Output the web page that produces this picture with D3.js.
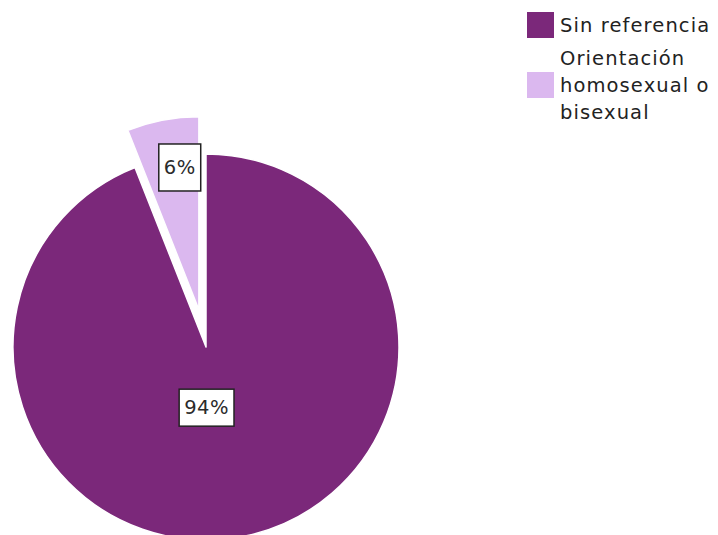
<!DOCTYPE html>
<html>
<head>
<meta charset="utf-8">
<script src="https://cdn.jsdelivr.net/npm/d3@7"></script>
<style>
  html, body { margin: 0; padding: 0; background: #fff; }
  svg { display: block; }
  text { font-family: "DejaVu Sans", sans-serif; }
</style>
</head>
<body>
<svg id="chart" width="718" height="535"></svg>
<script>
// Distribution of cases by reference to sexual orientation
const categories = ["Sin referencia", "Orientación homosexual o bisexual"];
const legendLines = [["Sin referencia"], ["Orientación", "homosexual o", "bisexual"]];
const values = [94, 6];
const valueLabels = ["94%", "6%"];
const colors = ["#7b287a", "#dbb8ef"];

const svg = d3.select("#chart");
const cx = 206, cy = 347, radius = 193;
const explode = [0, 38];          // outward offset per slice
const labelRadius = [0.32, 0.75]; // label distance as fraction of radius
const labelNudge = [-11, 8];      // horizontal nudge of each label
const boxPad = [[5, 7], [5, 12]]; // [horizontal, vertical] padding of label boxes

const pie = d3.pie().sort(null).value(d => d)(values);
const arc = d3.arc().innerRadius(0).outerRadius(radius);

const g = svg.append("g").attr("transform", `translate(${cx},${cy})`);

const slices = g.selectAll("g.slice")
  .data(pie)
  .join("g")
  .attr("class", "slice")
  .attr("transform", (d, i) => {
    const a = (d.startAngle + d.endAngle) / 2;
    return `translate(${Math.sin(a) * explode[i]},${-Math.cos(a) * explode[i]})`;
  });

slices.append("path")
  .attr("d", arc)
  .attr("fill", (d, i) => colors[i])
  .attr("stroke", "#fff")
  .attr("stroke-width", 1.5)
  .attr("stroke-linejoin", "round");

// value labels in boxed callouts
slices.each(function (d, i) {
  const a = (d.startAngle + d.endAngle) / 2;
  const r = radius * labelRadius[i];
  const x = Math.sin(a) * r + labelNudge[i], y = -Math.cos(a) * r;
  const sel = d3.select(this);
  const box = sel.append("rect");
  const t = sel.append("text")
    .attr("x", x).attr("y", y)
    .attr("text-anchor", "middle")
    .attr("dominant-baseline", "central")
    .attr("font-size", 19.5)
    .attr("letter-spacing", 0.5)
    .attr("fill", "#2b2b2b")
    .text(valueLabels[i]);
  const bb = t.node().getBBox();
  const [px, py] = boxPad[i];
  box.attr("x", bb.x - px).attr("y", y - bb.height / 2 - py)
    .attr("width", bb.width + 2 * px).attr("height", bb.height + 2 * py)
    .attr("fill", "#fff")
    .attr("stroke", "#222")
    .attr("stroke-width", 1.5);
});

// legend
const legend = svg.append("g").attr("transform", "translate(527,0)");
const lineH = 27;
const rows = [25, 85];
categories.forEach((c, i) => {
  const row = legend.append("g").attr("transform", `translate(0,${rows[i]})`);
  row.append("rect")
    .attr("x", 0).attr("y", -13)
    .attr("width", 27).attr("height", 26)
    .attr("fill", colors[i]);
  const lines = legendLines[i];
  const t = row.append("text")
    .attr("x", 33)
    .attr("font-size", 19.5)
    .attr("letter-spacing", 1.1)
    .attr("fill", "#222");
  lines.forEach((ln, k) => {
    t.append("tspan")
      .attr("x", 33)
      .attr("y", (k - (lines.length - 1) / 2) * lineH + 7)
      .text(ln);
  });
});
</script>
</body>
</html>
